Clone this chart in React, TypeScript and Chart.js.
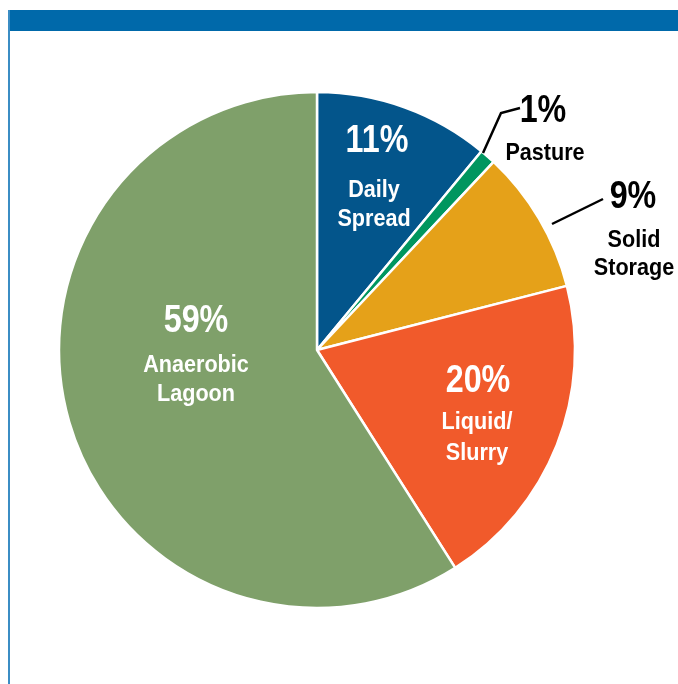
import React, { useEffect, useRef } from "react";
import { Chart, registerables } from "chart.js";

Chart.register(...registerables);

const categories = ["Daily Spread", "Pasture", "Solid Storage", "Liquid/Slurry", "Anaerobic Lagoon"];
const shares = [11, 1, 9, 20, 59];
const percentLabels = ["11%", "1%", "9%", "20%", "59%"];
const nameLines = [["Daily", "Spread"], ["Pasture"], ["Solid", "Storage"], ["Liquid/", "Slurry"], ["Anaerobic", "Lagoon"]];
const sliceColors = ["#03558B", "#00965F", "#E5A119", "#F15A2B", "#7FA06A"];

// label layout (offsets from pie center, px)
const labelLayout = [
  { x: 57, pctY: -198, lineYs: [-153, -124], dxPct: 3, color: "#ffffff" },
  { x: 228, pctY: -228, lineYs: [-190], dxPct: -2, color: "#000000" },
  { x: 317, pctY: -142, lineYs: [-103, -75], dxPct: -1, color: "#000000" },
  { x: 160, pctY: 42, lineYs: [79, 110], dxPct: 1, color: "#ffffff" },
  { x: -121, pctY: -18, lineYs: [22, 51], dxPct: 0, color: "#ffffff" },
];
const leaders = [
  null,
  [[166, -197], [184, -237], [203, -242]],
  [[235, -126], [286, -151]],
  null,
  null,
];

const FONT = "'Liberation Sans', Arial, sans-serif";

function narrowText(ctx: CanvasRenderingContext2D, t: string, x: number, y: number, sx: number) {
  ctx.save();
  ctx.translate(x, y);
  ctx.scale(sx, 1);
  ctx.fillText(t, 0, 0);
  ctx.restore();
}

const labelPlugin = {
  id: "sliceLabels",
  afterDraw(chart: any) {
    const meta = chart.getDatasetMeta(0);
    const arc = meta.data[0];
    if (!arc) return;
    const cx = arc.x;
    const cy = arc.y;
    const ctx = chart.ctx;
    ctx.save();
    leaders.forEach((pts) => {
      if (!pts) return;
      ctx.beginPath();
      ctx.strokeStyle = "#000";
      ctx.lineWidth = 2.5;
      ctx.lineJoin = "miter";
      pts.forEach((p, i) => {
        if (i === 0) ctx.moveTo(cx + p[0], cy + p[1]);
        else ctx.lineTo(cx + p[0], cy + p[1]);
      });
      ctx.stroke();
    });
    ctx.textAlign = "center";
    ctx.textBaseline = "alphabetic";
    labelLayout.forEach((l, i) => {
      ctx.fillStyle = l.color;
      ctx.font = `bold 38px ${FONT}`;
      narrowText(ctx, percentLabels[i], cx + l.x + l.dxPct, cy + l.pctY, 0.85);
      ctx.font = `bold 24px ${FONT}`;
      nameLines[i].forEach((t, j) => {
        narrowText(ctx, t, cx + l.x, cy + l.lineYs[j], 0.9);
      });
    });
    ctx.restore();
  },
};

export default function App() {
  const ref = useRef<HTMLCanvasElement | null>(null);
  useEffect(() => {
    if (!ref.current) return;
    const chart = new Chart(ref.current, {
      type: "pie",
      data: {
        labels: categories,
        datasets: [
          {
            data: shares,
            backgroundColor: sliceColors,
            borderColor: "#ffffff",
            borderWidth: 2.5,
            hoverOffset: 0,
          },
        ],
      },
      options: {
        animation: false,
        responsive: false,
        radius: 258,
        rotation: 0,
        layout: { padding: { left: 0, right: 44, top: 16, bottom: 0 } },
        plugins: { legend: { display: false }, tooltip: { enabled: false } },
        events: [],
      } as any,
      plugins: [labelPlugin],
    });
    return () => chart.destroy();
  }, []);
  return (
    <div style={{ position: "absolute", left: 0, top: 0, width: 678, height: 684, background: "#fff", overflow: "hidden" }}>
      <div style={{ position: "absolute", left: 8, top: 10, width: 670, height: 21, background: "#0069AA" }} />
      <div style={{ position: "absolute", left: 8, top: 10, width: 1.5, height: 674, background: "#3B8DC4" }} />
      <canvas ref={ref} width={678} height={684} style={{ position: "absolute", left: 0, top: 0, width: 678, height: 684 }} />
    </div>
  );
}
